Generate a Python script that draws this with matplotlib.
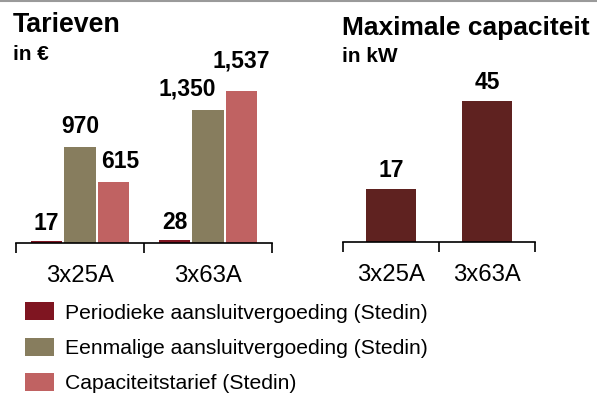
import matplotlib.pyplot as plt
from matplotlib.lines import Line2D

plt.rcParams['font.family'] = ['Liberation Sans', 'DejaVu Sans']

# Tarieven (in €) per aansluiting
groups = ['3x25A', '3x63A']
periodiek = [17, 28]
eenmalig = [970, 1350]
capaciteit = [615, 1537]
series_labels = ['Periodieke aansluitvergoeding (Stedin)',
                 'Eenmalige aansluitvergoeding (Stedin)',
                 'Capaciteitstarief (Stedin)']

# Maximale capaciteit (in kW)
max_kw = [17, 45]

c_periodiek = '#7f1521'
c_eenmalig = '#877d5e'
c_capaciteit = '#c06262'
c_kw = '#5f2220'

W, H = 597, 394
fig = plt.figure(figsize=(W / 100, H / 100), dpi=100)


def px_axes(x0, y_base, w, h):
    # axes placed in pixel units, measured from the top-left corner
    return fig.add_axes([x0 / W, (H - y_base) / H, w / W, h / H])


def style_axis(ax):
    for s in ['left', 'right', 'top']:
        ax.spines[s].set_visible(False)
    ax.spines['bottom'].set_linewidth(1.2)
    ax.spines['bottom'].set_zorder(3)
    ax.set_yticks([])
    ax.set_xlim(-0.5, 1.5)
    ax.set_xticks([0, 1])
    ax.set_xticklabels(groups, fontsize=17.2)
    ax.set_xticks([-0.5, 0.5, 1.5], minor=True)
    ax.tick_params(axis='x', which='major', length=0, pad=16)
    ax.tick_params(axis='x', which='minor', length=7, width=1.2, direction='out')
    ax.set_facecolor('none')


# left panel: tariffs
ax1 = px_axes(16, 243, 256, 200)
style_axis(ax1)
ax1.set_ylim(0, 200 / 0.0987)
xs = range(len(groups))
bw = 0.245
off = 0.262
b1 = ax1.bar([x - off for x in xs], periodiek, bw, color=c_periodiek, label=series_labels[0])
b2 = ax1.bar([x for x in xs], eenmalig, bw, color=c_eenmalig, label=series_labels[1])
b3 = ax1.bar([x + off for x in xs], capaciteit, bw, color=c_capaciteit, label=series_labels[2])

lab_kw = dict(ha='center', va='center', fontsize=16.5, fontweight='bold',
              textcoords='offset points', annotation_clip=False)
for i in xs:
    ax1.annotate(f'{periodiek[i]:,}', (i - off, periodiek[i]), xytext=(0, 13), **lab_kw)
ax1.annotate(f'{eenmalig[0]:,}', (0, eenmalig[0]), xytext=(0, 15), **lab_kw)
ax1.annotate(f'{capaciteit[0]:,}', (off, capaciteit[0]), xytext=(5, 15), **lab_kw)
ax1.annotate(f'{eenmalig[1]:,}', (1, eenmalig[1]), xytext=(-15, 15), **lab_kw)
ax1.annotate(f'{capaciteit[1]:,}', (1 + off, capaciteit[1]), xytext=(0, 22), **lab_kw)

# right panel: capacity
ax2 = px_axes(343, 242, 192, 200)
style_axis(ax2)
ax2.set_ylim(0, 200 / 3.14)
ax2.bar(list(xs), max_kw, 0.53, color=c_kw)
for i in xs:
    ax2.annotate(f'{max_kw[i]}', (i, max_kw[i]), xytext=(0, 13), **lab_kw)

# panel titles
fig.text(13 / W, 1 - 25 / H, 'Tarieven', fontsize=19.3, fontweight='bold', va='center')
fig.text(13 / W, 1 - 54 / H, 'in €', fontsize=15, fontweight='bold', va='center')
fig.text(342 / W, 1 - 28 / H, 'Maximale capaciteit', fontsize=19, fontweight='bold', va='center')
fig.text(342 / W, 1 - 57 / H, 'in kW', fontsize=15, fontweight='bold', va='center')

# grey rule along the top edge
fig.add_artist(Line2D([0, 1], [1 - 1 / H, 1 - 1 / H], color='#9a9a9a', lw=1.5))

fig.legend(handles=[b1, b2, b3], loc='upper left',
           bbox_to_anchor=(17 / W, 1 - 294 / H), frameon=False,
           fontsize=15.25, handlelength=1.33, handleheight=0.93,
           handletextpad=0.55, labelspacing=0.7, borderaxespad=0)

fig.savefig('out.png', dpi=100)
